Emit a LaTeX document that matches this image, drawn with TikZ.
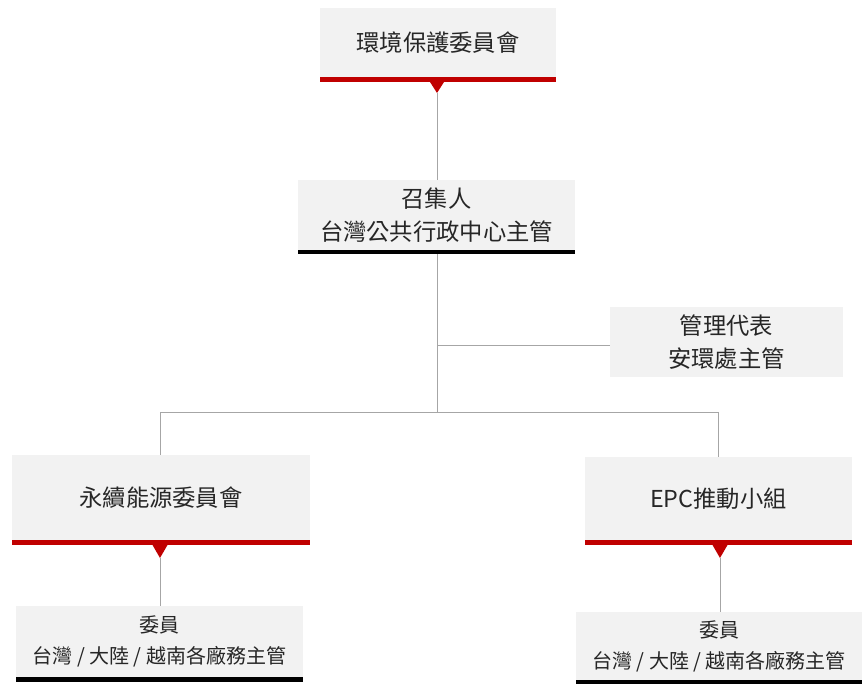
\documentclass[tikz,border=0pt]{standalone}
\usepackage{fontspec}
\setmainfont{Noto Sans CJK TC}
\definecolor{boxfill}{HTML}{F2F2F2}
\definecolor{barred}{HTML}{C00000}
\definecolor{txt}{HTML}{262626}
\definecolor{linegray}{HTML}{A6A6A6}
\tikzset{
  orgbox/.style={fill=boxfill, draw=none, inner sep=0pt, align=center, text=txt},
  bigtext/.style={font=\fontsize{23.3}{33}\selectfont},
  smalltext/.style={font=\fontsize{20}{31}\selectfont},
  conn/.style={draw=linegray, line width=1pt},
}
\begin{document}
\begin{tikzpicture}[x=1pt,y=-1pt]
\useasboundingbox (0,0) rectangle (867,694);
% boxes
\node[orgbox,bigtext,minimum width=236pt,minimum height=69pt] (top) at (438,42.5) {環境保護委員會};
\node[orgbox,bigtext,minimum width=277pt,minimum height=70pt] (mid) at (436.5,215) {召集人\\台灣公共行政中心主管};
\node[orgbox,bigtext,minimum width=233pt,minimum height=70pt] (side) at (726.5,342) {管理代表\\安環處主管};
\node[orgbox,bigtext,minimum width=298pt,minimum height=85pt] (left) at (161,497.5) {永續能源委員會};
\node[orgbox,bigtext,minimum width=267pt,minimum height=83pt] (right) at (718.5,498.5) {EPC推動小組};
\node[orgbox,smalltext,minimum width=287pt,minimum height=71pt] (bl) at (159.5,641.5) {委員\\台灣 / 大陸 / 越南各廠務主管};
\node[orgbox,smalltext,minimum width=286pt,minimum height=68pt] (br) at (719,646) {委員\\台灣 / 大陸 / 越南各廠務主管};
% bars
\fill[barred] (top.south west) rectangle ([yshift=-5pt]top.south east);
\fill[black] (mid.south west) rectangle ([yshift=-4pt]mid.south east);
\fill[barred] (left.south west) rectangle ([yshift=-5pt]left.south east);
\fill[barred] (right.south west) rectangle ([yshift=-5pt]right.south east);
\fill[black] (bl.south west) rectangle ([yshift=-5pt]bl.south east);
\fill[black] (br.south west) rectangle ([yshift=-4pt]br.south east);
% triangles
\coordinate (topTip) at (437,93);
\coordinate (leftTip) at (160,558);
\coordinate (rightTip) at (720,558);
\fill[barred] (430,82) -- (444,82) -- (topTip) -- cycle;
\fill[barred] (152.5,545) -- (167.5,545) -- (leftTip) -- cycle;
\fill[barred] (712.5,545) -- (727.5,545) -- (rightTip) -- cycle;
% connectors
\coordinate (midBot) at (437,254);
\coordinate (sideJ) at (437,345);
\coordinate (j) at (437,412);
\coordinate (jl) at (160,412);
\coordinate (jr) at (718,412);
\draw[conn] (topTip) -- (437,180);
\draw[conn] (midBot) -- (j);
\draw[conn] (sideJ) -- (side.west |- sideJ);
\draw[conn] (jl) -- (jr);
\draw[conn] (jl) -- (jl |- left.north);
\draw[conn] (jr) -- (jr |- right.north);
\draw[conn] (leftTip) -- (leftTip |- bl.north);
\draw[conn] (rightTip) -- (rightTip |- br.north);
\end{tikzpicture}
\end{document}
